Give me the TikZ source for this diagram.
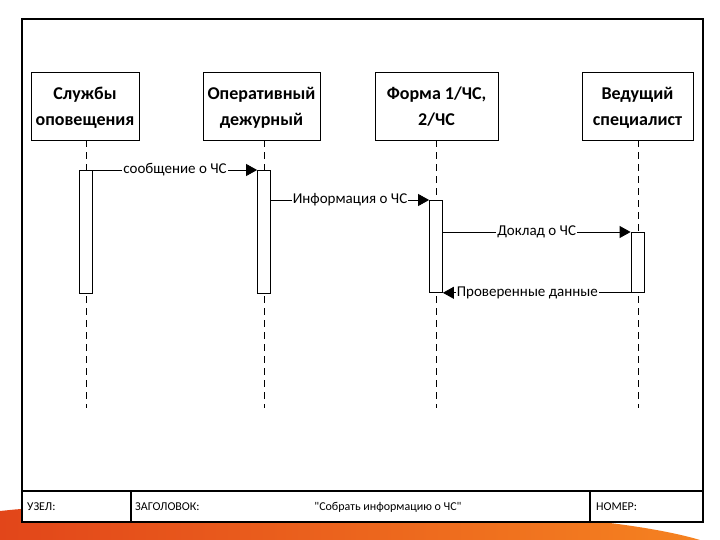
\documentclass[tikz,border=0pt]{standalone}
\usepackage{fontspec}
\setmainfont{Carlito}
\newfontfamily\footfont{Carlito}
\usetikzlibrary{arrows.meta}
\definecolor{orA}{HTML}{E2461A}
\definecolor{orB}{HTML}{F58220}
\tikzset{
  head/.style={draw, line width=0.9pt, fill=white, minimum width=#1, minimum height=68pt, align=center, font=\fontsize{18}{26}\selectfont\bfseries, inner sep=0pt, text depth=0pt},
  act/.style={draw, line width=0.8pt, fill=white, minimum width=13pt, anchor=north, inner sep=0pt},
  life/.style={dash pattern=on 7pt off 5pt, line width=0.8pt},
  msg/.style={line width=0.8pt, -{Triangle[length=11pt,width=12pt]}},
  mlab/.style={fill=white, inner sep=1pt, anchor=base, yshift=-3.5pt, font=\fontsize{15}{17}\selectfont},
  foot/.style={font=\footfont\fontsize{12}{14}\selectfont, inner sep=0pt}
}
\begin{document}
\begin{tikzpicture}[x=1pt,y=-1pt]
\useasboundingbox (0,0) rectangle (720,540);
% orange swoosh
\shade[left color=orA, right color=orB] (0,511) .. controls (10,510) and (18,509) .. (24,509) -- (24,523) -- (610,523) .. controls (650,528) and (680,534) .. (700,540) -- (0,540) -- cycle;
% frame
\draw[line width=1.3pt, fill=white] (22,19) rectangle (703,522);
\draw[line width=1.3pt] (22,491) -- (703,491);
\draw[line width=1.3pt] (131,491) -- (131,522);
\draw[line width=1.3pt] (590,491) -- (590,522);
\node[foot, anchor=west] (fa) at (27,507) {УЗЕЛ:};
\node[foot, anchor=west] (fb) at (135,507) {ЗАГОЛОВОК:};
\node[foot] (fc) at (388,507) {"Собрать информацию о ЧС"};
\node[foot, anchor=west] (fd) at (596,507) {НОМЕР:};
% heads
\node[head=108pt] (h1) at (85,106) {Службы\\оповещения};
\node[head=117pt] (h2) at (261.5,106) {Оперативный\\дежурный};
\node[head=123pt] (h3) at (436.5,106) {Форма 1/ЧС,\\2/ЧС};
\node[head=111pt] (h4) at (637.5,106) {Ведущий\\специалист};
% lifelines
\coordinate (e1) at (86,408);
\coordinate (e2) at (264,408);
\coordinate (e3) at (436,408);
\coordinate (e4) at (638,408);
\draw[life] (h1.south -| e1) -- (e1);
\draw[life] (h2.south -| e2) -- (e2);
\draw[life] (h3.south -| e3) -- (e3);
\draw[life] (h4.south -| e4) -- (e4);
% activations
\node[act, minimum height=123pt] (a1) at (86,170) {};
\node[act, minimum height=123pt] (a2) at (264,170) {};
\node[act, minimum height=92pt] (a3) at (436,200) {};
\node[act, minimum height=60pt] (a4) at (637.5,232) {};
% messages
\draw[msg] (a1.north east) -- node[mlab, pos=0.5] (m1) {сообщение о ЧС} (a2.north west);
\draw[msg] (a2.east |- 0,200) -- node[mlab, pos=0.5] (m2) {Информация о ЧС} (a3.north west);
\draw[msg] (a3.east |- 0,232) -- node[mlab, pos=0.5] (m3) {Доклад о ЧС} (a4.north west);
\draw[msg] (a4.south west) -- node[mlab, pos=0.55] (m4) {Проверенные данные} (a3.south east);
\end{tikzpicture}
\end{document}
